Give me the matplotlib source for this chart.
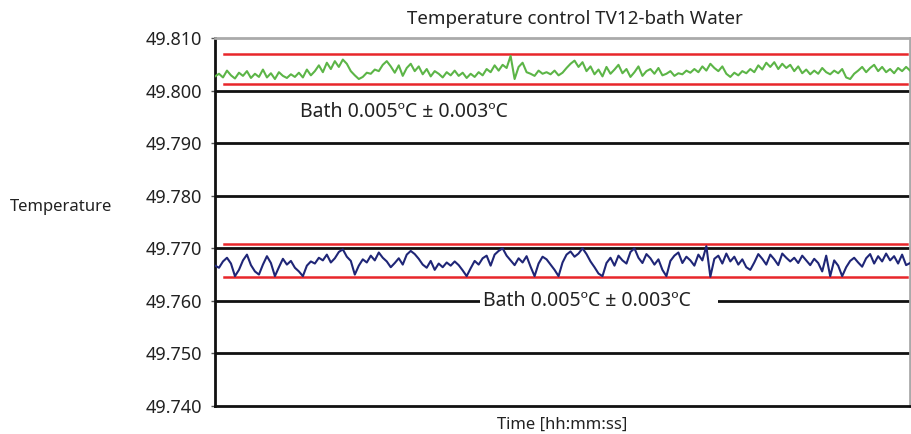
import numpy as np
import matplotlib
matplotlib.use('Agg')
import matplotlib.pyplot as plt

plt.rcParams['font.family'] = ['Noto Sans', 'DejaVu Sans']

## Readings (estimated from the chart)
green = [49.8027, 49.8032, 49.8025, 49.8038, 49.8029, 49.8023, 49.8034, 49.8028, 49.8037, 49.8024,
         49.8032, 49.8026, 49.8040, 49.8025, 49.8033, 49.8022, 49.8035, 49.8028, 49.8024, 49.8031,
         49.8026, 49.8034, 49.8025, 49.8040, 49.8029, 49.8037, 49.8048, 49.8035, 49.8053, 49.8041,
         49.8056, 49.8045, 49.8059, 49.8051, 49.8037, 49.8029, 49.8022, 49.8026, 49.8034, 49.8032,
         49.8040, 49.8037, 49.8049, 49.8056, 49.8046, 49.8034, 49.8048, 49.8028, 49.8043, 49.8051,
         49.8037, 49.8046, 49.8031, 49.8041, 49.8027, 49.8037, 49.8032, 49.8025, 49.8035, 49.8029,
         49.8038, 49.8028, 49.8034, 49.8024, 49.8032, 49.8026, 49.8035, 49.8029, 49.8041, 49.8035,
         49.8048, 49.8038, 49.8049, 49.8043, 49.8066, 49.8022, 49.8045, 49.8053, 49.8035, 49.8032,
         49.8028, 49.8038, 49.8032, 49.8035, 49.8031, 49.8038, 49.8029, 49.8034, 49.8043, 49.8051,
         49.8057, 49.8045, 49.8054, 49.8037, 49.8046, 49.8031, 49.8040, 49.8027, 49.8045, 49.8032,
         49.8040, 49.8049, 49.8033, 49.8041, 49.8026, 49.8035, 49.8046, 49.8028, 49.8037, 49.8041,
         49.8032, 49.8043, 49.8029, 49.8032, 49.8037, 49.8028, 49.8033, 49.8031, 49.8038, 49.8034,
         49.8041, 49.8035, 49.8046, 49.8038, 49.8051, 49.8043, 49.8037, 49.8046, 49.8032, 49.8026,
         49.8034, 49.8029, 49.8037, 49.8033, 49.8041, 49.8035, 49.8048, 49.8040, 49.8053, 49.8045,
         49.8054, 49.8041, 49.8051, 49.8043, 49.8049, 49.8037, 49.8046, 49.8033, 49.8040, 49.8031,
         49.8038, 49.8032, 49.8043, 49.8035, 49.8031, 49.8038, 49.8033, 49.8041, 49.8025, 49.8022,
         49.8032, 49.8038, 49.8045, 49.8035, 49.8043, 49.8049, 49.8037, 49.8045, 49.8035, 49.8041,
         49.8033, 49.8043, 49.8037, 49.8045, 49.8038]

blue = [49.7667, 49.7663, 49.7675, 49.7682, 49.7671, 49.7647, 49.7659, 49.7677, 49.7688, 49.7668,
        49.7656, 49.7650, 49.7669, 49.7685, 49.7672, 49.7647, 49.7664, 49.7680, 49.7669, 49.7676,
        49.7663, 49.7656, 49.7647, 49.7667, 49.7675, 49.7671, 49.7682, 49.7677, 49.7688, 49.7673,
        49.7681, 49.7693, 49.7698, 49.7684, 49.7676, 49.7650, 49.7667, 49.7679, 49.7673, 49.7686,
        49.7677, 49.7692, 49.7682, 49.7675, 49.7664, 49.7672, 49.7681, 49.7669, 49.7688, 49.7695,
        49.7689, 49.7680, 49.7669, 49.7663, 49.7676, 49.7659, 49.7671, 49.7664, 49.7673, 49.7667,
        49.7675, 49.7668, 49.7658, 49.7647, 49.7662, 49.7676, 49.7669, 49.7681, 49.7686, 49.7667,
        49.7688, 49.7695, 49.7700, 49.7686, 49.7677, 49.7668, 49.7681, 49.7673, 49.7685, 49.7665,
        49.7647, 49.7671, 49.7684, 49.7679, 49.7669, 49.7659, 49.7647, 49.7673, 49.7688, 49.7694,
        49.7684, 49.7690, 49.7700, 49.7689, 49.7675, 49.7664, 49.7652, 49.7647, 49.7672, 49.7682,
        49.7667, 49.7686, 49.7677, 49.7671, 49.7693, 49.7700, 49.7682, 49.7672, 49.7689, 49.7681,
        49.7669, 49.7679, 49.7659, 49.7647, 49.7676, 49.7686, 49.7692, 49.7672, 49.7684, 49.7677,
        49.7667, 49.7688, 49.7677, 49.7704, 49.7646, 49.7680, 49.7686, 49.7671, 49.7690, 49.7675,
        49.7684, 49.7669, 49.7679, 49.7664, 49.7659, 49.7673, 49.7689, 49.7680, 49.7669, 49.7688,
        49.7679, 49.7668, 49.7690, 49.7682, 49.7675, 49.7682, 49.7672, 49.7686, 49.7677, 49.7668,
        49.7680, 49.7672, 49.7656, 49.7686, 49.7647, 49.7677, 49.7667, 49.7647, 49.7664, 49.7676,
        49.7682, 49.7673, 49.7665, 49.7681, 49.7689, 49.7671, 49.7685, 49.7675, 49.7690, 49.7677,
        49.7685, 49.7671, 49.7688, 49.7668, 49.7672]

green_limits = [49.8070, 49.80125]
blue_limits = [49.77076, 49.76454]
grid_levels = [49.800, 49.790, 49.780, 49.770, 49.760, 49.750]
yticks = [49.740, 49.750, 49.760, 49.770, 49.780, 49.790, 49.800, 49.810]
label = 'Bath 0.005ºC ± 0.003ºC'

txt = '#222222'
fig = plt.figure(figsize=(9.11, 4.34), dpi=100)
ax = fig.add_axes([0.236, 0.0645, 0.763, 0.8479])

x = np.arange(len(green))
ax.set_xlim(0, len(green) - 1)
ax.set_ylim(49.740, 49.810)

## gridlines
for g in grid_levels:
    ax.axhline(g, color='#111111', lw=2, zorder=1)

## tolerance bands
for lim in green_limits + blue_limits:
    ax.axhline(lim, xmin=0.013, xmax=0.995, color='#e8262a', lw=1.8, zorder=2)

ax.plot(x, green, color='#5cb547', lw=1.5, zorder=3)
ax.plot(np.arange(len(blue)), blue, color='#1f2677', lw=1.5, zorder=3)

## spines
for s in ['left', 'bottom']:
    ax.spines[s].set_color('#111111')
    ax.spines[s].set_linewidth(2)
for s in ['top', 'right']:
    ax.spines[s].set_color('#aaaaaa')
    ax.spines[s].set_linewidth(2)

ax.set_yticks(yticks)
ax.set_yticklabels(['%.3f' % t for t in yticks])
ax.tick_params(axis='y', length=3, width=1, pad=6, labelsize=13, labelcolor=txt, color='#555555')
ax.set_xticks([])

ax.text(0.123, 49.7959, label, transform=ax.get_yaxis_transform(), ha='left', va='center',
        fontsize=14, color=txt)
ax.text(0.385, 49.760, label + '     ', transform=ax.get_yaxis_transform(), ha='left', va='center',
        fontsize=14, color=txt, zorder=4,
        bbox=dict(facecolor='white', edgecolor='none', boxstyle='square,pad=0.15'))

ax.set_xlabel('Time [hh:mm:ss]', fontsize=12, color=txt, labelpad=8)
fig.text(575 / 911, 1 - 19 / 434, 'Temperature control TV12-bath Water', ha='center', va='center',
         fontsize=13.5, color=txt)
fig.text(10 / 911, 1 - 207 / 434, 'Temperature', ha='left', va='center', fontsize=12, color=txt)

plt.savefig('out.png')
